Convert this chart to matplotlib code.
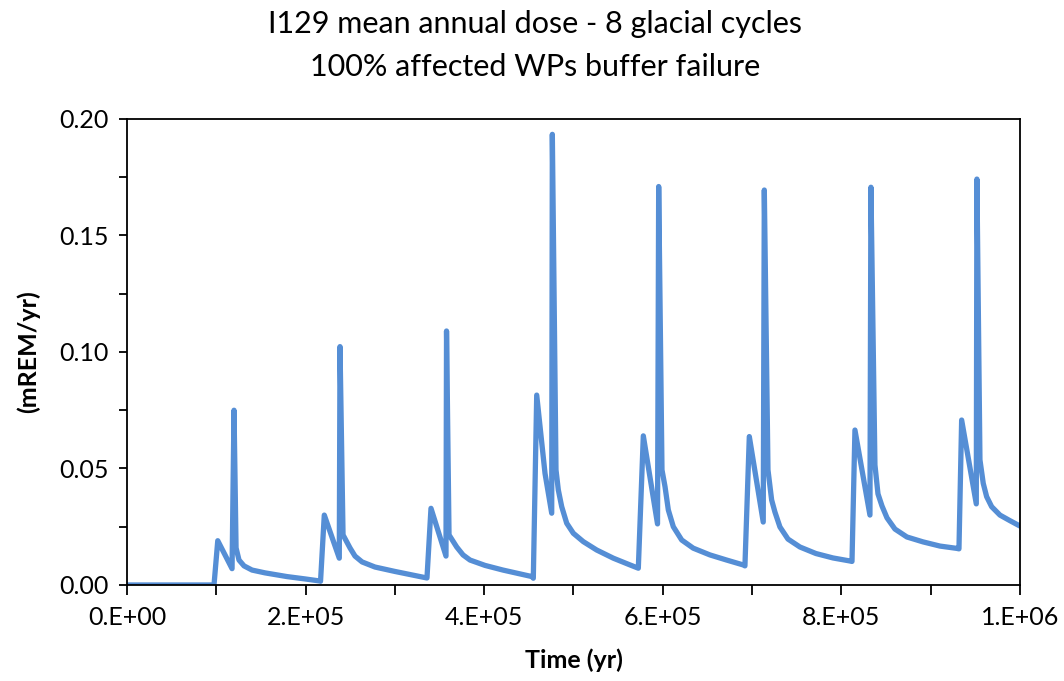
import matplotlib as mpl
mpl.use('Agg')
import matplotlib.pyplot as plt

# time (yr) and dose (mREM/yr), one row per glacial cycle
time_yr = [0, 97400, 101600, 117600, 119800, 122100, 125400, 131000, 140000, 154500, 179200, 199300, 216100,
           216700, 220900, 237700, 238500, 241900, 249700, 255300, 263200, 277700, 300100, 335900,
           340400, 357200, 357800, 360600, 369200, 376300, 384100, 400900, 421000, 453500,
           455000, 458800, 468100, 475600, 476300, 480400, 483000, 486800, 492400, 499800, 511000, 526000, 544600, 563300, 572600,
           578200, 594100, 595400, 599100, 602500, 606200, 611800, 621200, 634100, 652800, 671500, 690100, 692000,
           696900, 712500, 713700, 717800, 721900, 725600, 731200, 740200, 753600, 771500, 790600, 809600, 811900,
           815200, 832000, 833100, 837600, 841000, 845500, 851100, 860000, 873400, 891400, 910400, 929400, 931700,
           934700, 951100, 951800, 955200, 958900, 962700, 968300, 977600, 988800, 1000000]
dose = [0.0, 0.0, 0.019, 0.007, 0.075, 0.0159, 0.0107, 0.0082, 0.0064, 0.0052, 0.0036, 0.0026, 0.0017,
        0.0016, 0.030, 0.0115, 0.1023, 0.0215, 0.0159, 0.0124, 0.0099, 0.0077, 0.0058, 0.0030,
        0.0329, 0.0124, 0.109, 0.0215, 0.0163, 0.0129, 0.0107, 0.0084, 0.0064, 0.0036,
        0.0029, 0.0815, 0.0479, 0.0308, 0.1934, 0.0494, 0.0408, 0.0336, 0.0265, 0.0222, 0.0186, 0.0150, 0.0115, 0.0086, 0.0072,
        0.064, 0.0262, 0.171, 0.0494, 0.0422, 0.0322, 0.0250, 0.0193, 0.0158, 0.0129, 0.0107, 0.0086, 0.0082,
        0.0637, 0.0270, 0.1695, 0.0494, 0.0365, 0.0313, 0.0249, 0.0197, 0.0163, 0.0135, 0.0116, 0.0103, 0.0101,
        0.0665, 0.0300, 0.1707, 0.0515, 0.0391, 0.0339, 0.0288, 0.0240, 0.0206, 0.0185, 0.0167, 0.0157, 0.0155,
        0.0708, 0.0348, 0.1742, 0.0537, 0.0436, 0.0379, 0.0336, 0.0300, 0.0276, 0.0253]

x_ticks = [0, 200000, 400000, 600000, 800000, 1000000]
x_labels = ['0.E+00', '2.E+05', '4.E+05', '6.E+05', '8.E+05', '1.E+06']
y_ticks = [0.0, 0.05, 0.10, 0.15, 0.20]
y_labels = ['0.00', '0.05', '0.10', '0.15', '0.20']

plt.rcParams['font.family'] = ['Lato', 'DejaVu Sans']

fig = plt.figure(figsize=(10.64, 6.81), dpi=100)
ax = fig.add_axes([0.1194, 0.1410, 0.8392, 0.6843])

ax.plot(time_yr, dose, color='#558ED5', lw=3.8, solid_joinstyle='round',
        solid_capstyle='round')

ax.set_xlim(0, 1000000)
ax.set_ylim(0, 0.20)
ax.set_xticks(x_ticks)
ax.set_xticklabels(x_labels)
ax.set_xticks([100000, 300000, 500000, 700000, 900000], minor=True)
ax.set_yticks(y_ticks)
ax.set_yticklabels(y_labels)
ax.set_yticks([0.025, 0.075, 0.125, 0.175], minor=True)

ax.tick_params(axis='both', which='both', direction='out', width=1.3,
               color='black', labelsize=18)
ax.tick_params(axis='x', which='both', length=7, pad=8)
ax.tick_params(axis='y', which='both', length=6, pad=7)
for s in ax.spines.values():
    s.set_linewidth(1.3)
    s.set_color('black')

ax.set_xlabel('Time (yr)', fontsize=18, fontweight='bold', labelpad=14)
ax.set_ylabel('(mREM/yr)', fontsize=18, fontweight='bold', labelpad=14)

fig.text(0.503, 0.965, 'I129 mean annual dose - 8 glacial cycles',
         ha='center', va='center', fontsize=22)
fig.text(0.503, 0.902, '100% affected WPs buffer failure',
         ha='center', va='center', fontsize=22)

fig.savefig('out.png', dpi=100)
